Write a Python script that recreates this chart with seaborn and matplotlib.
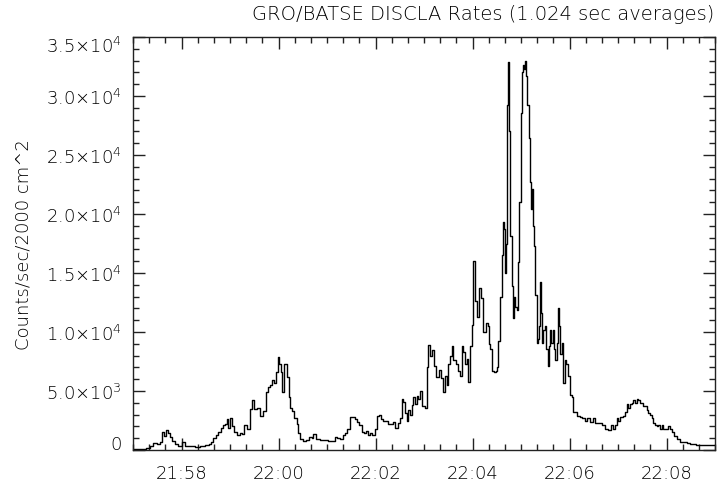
import numpy as np
import pandas as pd
import matplotlib
matplotlib.use("Agg")
import matplotlib.pyplot as plt
import matplotlib.dates as mdates
import matplotlib.transforms as mtransforms
from matplotlib.ticker import MultipleLocator, FixedLocator, FixedFormatter
import seaborn as sns

# ---- data (seconds after 21:57:00, counts/sec/2000 cm^2) ----
seconds = [0, 5, 11, 16, 21, 25, 30, 33, 36, 38, 41, 43, 46, 48, 52, 56, 61, 64, 71, 77,
           83, 89, 94, 96, 99, 103, 105, 109, 111, 114, 116, 118, 120, 122, 125, 129, 132, 135, 137, 141,
           145, 147, 150, 153, 157, 161, 165, 167, 169, 172, 174, 177, 179, 181, 183, 184, 187, 191, 193, 194,
           197, 199, 203, 204, 207, 210, 214, 218, 221, 223, 226, 231, 236, 241, 246, 250, 252, 256, 260, 262,
           265, 268, 271, 275, 277, 280, 283, 286, 288, 291, 293, 296, 299, 302, 304, 307, 309, 313, 315, 319,
           322, 324, 328, 330, 333, 334, 336, 339, 340, 343, 345, 346, 349, 351, 353, 355, 358, 361, 364, 365,
           367, 370, 372, 375, 379, 381, 383, 386, 388, 390, 392, 395, 396, 400, 402, 405, 407, 408, 411, 413,
           414, 417, 419, 421, 423, 426, 428, 431, 433, 435, 437, 439, 440, 442, 444, 447, 449, 450, 452, 454,
           456, 458, 459, 460, 461, 463, 464, 465, 466, 469, 470, 471, 473, 475, 476, 478, 480, 481, 482, 484,
           485, 486, 487, 490, 491, 492, 494, 495, 496, 497, 500, 501, 502, 503, 505, 506, 507, 510, 511, 513,
           515, 516, 517, 520, 521, 522, 525, 526, 527, 528, 531, 532, 535, 536, 538, 541, 543, 544, 547, 549,
           553, 555, 559, 562, 565, 569, 572, 575, 580, 584, 588, 591, 594, 596, 599, 600, 602, 606, 609, 611,
           612, 615, 617, 619, 621, 623, 625, 627, 631, 636, 637, 640, 642, 643, 646, 648, 649, 652, 654, 656,
           659, 662, 664, 667, 669, 673, 677, 680, 685, 689, 692, 697, 701, 705, 710, 714, 718, 720]
rates = [50, 100, 100, 150, 370, 600, 500, 700, 1500, 1200, 1700, 1400, 1100, 800, 500, 350, 650, 300, 300, 250,
         350, 400, 500, 700, 1000, 1300, 1500, 1900, 2100, 2200, 2600, 1900, 2700, 2000, 1500, 1300, 1400, 1350, 2100, 1800,
         3500, 4200, 3500, 3600, 2900, 3300, 4900, 5300, 5500, 5900, 5700, 6600, 7900, 7300, 6600, 4900, 7300, 6200, 4500, 3600,
         3300, 2700, 2200, 1400, 950, 800, 850, 1100, 1000, 1350, 950, 850, 850, 800, 750, 1100, 1000, 900, 1300, 1400,
         1800, 2800, 2800, 2600, 2400, 2100, 1500, 1400, 1600, 1300, 1450, 1300, 1800, 2900, 3000, 2600, 2500, 2500, 2200, 2200,
         2400, 1900, 2300, 2700, 4300, 4100, 3100, 2500, 3400, 3000, 3800, 4500, 3900, 4600, 4300, 5000, 3700, 3600, 7000, 8900,
         8000, 8500, 7100, 6200, 6800, 6100, 4900, 6300, 5500, 7300, 8000, 8800, 7600, 7300, 6700, 6300, 8800, 8300, 7300, 7700,
         5800, 8800, 10600, 16000, 12600, 11300, 13700, 12900, 10000, 10000, 10800, 10500, 9000, 8600, 6700, 6600, 6700, 7000, 9200, 13000,
         16500, 19300, 18700, 15000, 17500, 29200, 32900, 27000, 18100, 13900, 11200, 13000, 12100, 11900, 15900, 21000, 28600, 32000, 32600, 32300,
         33000, 31700, 29200, 26400, 22700, 20400, 22100, 19000, 17300, 13100, 9100, 9400, 10500, 14200, 11600, 9100, 10200, 10500, 8600, 7100,
         8800, 10200, 9100, 10200, 8600, 7600, 9100, 12000, 10500, 8100, 9100, 5700, 7600, 7300, 6300, 4700, 4500, 3200, 3200, 2900,
         2800, 2700, 2500, 2700, 2400, 2700, 2300, 2300, 2100, 1800, 1700, 2100, 1800, 2100, 2700, 2500, 2800, 2900, 3200, 3900,
         3600, 3900, 4000, 4200, 4000, 4300, 4200, 4000, 3700, 3400, 3100, 3000, 2700, 2300, 2100, 2000, 2100, 1800, 2100, 1800,
         1800, 2000, 1800, 1500, 1200, 900, 700, 650, 600, 550, 550, 450, 400, 450, 400, 450, 450, 450]

y_ticks = [0, 5000, 10000, 15000, 20000, 25000, 30000, 35000]
y_tick_labels = ["0", r"5.0$\times$10$^{3}$", r"1.0$\times$10$^{4}$", r"1.5$\times$10$^{4}$",
                 r"2.0$\times$10$^{4}$", r"2.5$\times$10$^{4}$", r"3.0$\times$10$^{4}$", r"3.5$\times$10$^{4}$"]
title = "GRO/BATSE DISCLA Rates (1.024 sec averages)"
ylabel = "Counts/sec/2000 cm^2"
start_time = "2000-01-01 21:57:00"
end_time = "2000-01-01 22:09:00"

# ---- build frame ----
t0 = pd.Timestamp(start_time)
df = pd.DataFrame({"time": t0 + pd.to_timedelta(seconds, unit="s"), "rate": rates})

sns.set_theme(style="white")
plt.rcParams["font.family"] = ["DejaVu Sans"]
plt.rcParams["font.weight"] = "light"
plt.rcParams["axes.labelweight"] = "light"
plt.rcParams["mathtext.default"] = "regular"
plt.rcParams["axes.edgecolor"] = "#222222"
plt.rcParams["axes.linewidth"] = 1.0

TXT = "#000000"

fig = plt.figure(figsize=(7.22, 4.85), dpi=100)
ax = fig.add_axes([133 / 722, 1 - 451 / 485, (715 - 133) / 722, (451 - 38) / 485])

sns.lineplot(data=df, x="time", y="rate", ax=ax, color="black", linewidth=1.0,
             drawstyle="steps-post", estimator=None, sort=True)

ax.set_xlim(pd.Timestamp(start_time), pd.Timestamp(end_time))
ax.set_ylim(y_ticks[0], y_ticks[-1])

ax.xaxis.set_major_locator(mdates.MinuteLocator(byminute=range(0, 60, 2)))
ax.xaxis.set_minor_locator(mdates.SecondLocator(bysecond=[0, 20, 40]))
ax.xaxis.set_major_formatter(mdates.DateFormatter("%H:%M"))
ax.yaxis.set_major_locator(FixedLocator(y_ticks))
ax.yaxis.set_major_formatter(FixedFormatter(y_tick_labels))
ax.yaxis.set_minor_locator(MultipleLocator(1000))

ax.tick_params(which="both", direction="in", top=True, right=True, bottom=True, left=True,
               color="#222222", labelsize=13, labelcolor=TXT)
ax.tick_params(which="major", length=8.5, width=1.0)
ax.tick_params(which="minor", length=4.5, width=1.0)
ax.tick_params(axis="x", pad=10)
ax.tick_params(axis="y", pad=8)

ax.set_xlabel("")
ax.set_ylabel(ylabel, fontsize=13, color=TXT, fontweight="light", labelpad=10)
fig.text(714 / 722, 1 - 15 / 485, title, fontsize=14, color=TXT, fontweight="light",
         ha="right", va="center")

# IDL keeps the end labels inside the axis range
fig.canvas.draw()
yt = ax.yaxis.get_major_ticks()
yt[0].label1.set_transform(yt[0].label1.get_transform() +
                           mtransforms.ScaledTranslation(0, 8 / 100, fig.dpi_scale_trans))
yt[-1].label1.set_transform(yt[-1].label1.get_transform() +
                            mtransforms.ScaledTranslation(0, -7 / 100, fig.dpi_scale_trans))

fig.savefig("out.png", dpi=100)
